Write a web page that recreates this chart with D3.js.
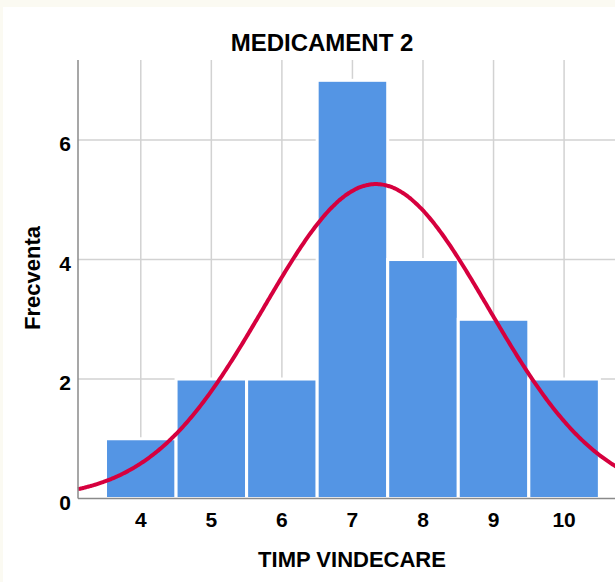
<!DOCTYPE html>
<html>
<head>
<meta charset="utf-8">
<script src="https://cdn.jsdelivr.net/npm/d3@7"></script>
<style>
  body { margin: 0; background: #fff; }
  svg { display: block; }
  text { font-family: "Liberation Sans", Arial, sans-serif; font-weight: bold; fill: #000; }
</style>
</head>
<body>
<div id="chart-container"></div>
<script>
// Histogram data: healing time (bins) and frequencies
const timeValues = [4, 5, 6, 7, 8, 9, 10];
const frequencies = [1, 2, 2, 7, 4, 3, 2];
const yTicks = [0, 2, 4, 6];

const W = 615, H = 582;
const margin = { top: 60, left: 78, bottomY: 498.5 };

const svg = d3.select('#chart-container').append('svg')
  .attr('width', W)
  .attr('height', H);

// faint cream edge like the screenshot
svg.append('rect').attr('width', W).attr('height', H).attr('fill', '#fbfaf2');
svg.append('rect').attr('x', 3).attr('y', 7).attr('width', W - 3).attr('height', H - 7).attr('fill', '#fff');

// scales (plot runs off the right edge of the picture)
const x = d3.scaleLinear().domain([3.11, 11.1]).range([margin.left, margin.left + 7.99 * 70.55]);
const y = d3.scaleLinear().domain([0, 7.34]).range([margin.bottomY, margin.top]);

const plotRight = x.range()[1];

// gridlines
svg.append('g')
  .selectAll('line.v')
  .data(timeValues)
  .enter().append('line')
  .attr('x1', d => x(d)).attr('x2', d => x(d))
  .attr('y1', y(0)).attr('y2', margin.top)
  .style('stroke', '#d2d2d2').style('stroke-width', 1.5);

svg.append('g')
  .selectAll('line.h')
  .data(yTicks.slice(1))
  .enter().append('line')
  .attr('x1', margin.left).attr('x2', plotRight)
  .attr('y1', d => y(d)).attr('y2', d => y(d))
  .style('stroke', '#d2d2d2').style('stroke-width', 1.5);

// bars
svg.append('g')
  .selectAll('rect')
  .data(timeValues)
  .enter().append('rect')
  .attr('x', d => x(d - 0.5))
  .attr('y', (d, i) => y(frequencies[i]))
  .attr('width', x(1) - x(0))
  .attr('height', (d, i) => y(0) - y(frequencies[i]))
  .style('fill', '#5495e4')
  .style('stroke', '#fff')
  .style('stroke-width', 3);

// normal curve fitted to the data
const n = d3.sum(frequencies);
const mean = d3.sum(timeValues, (d, i) => d * frequencies[i]) / n;
const variance = d3.sum(timeValues, (d, i) => frequencies[i] * (d - mean) ** 2) / (n - 1);
const sd = Math.sqrt(variance);
const curveX = d3.range(3.11, 11.1, 0.02);
const density = v => n * Math.exp(-0.5 * ((v - mean) / sd) ** 2) / (sd * Math.sqrt(2 * Math.PI));

const line = d3.line()
  .x(d => x(d))
  .y(d => y(density(d)))
  .curve(d3.curveBasis);

svg.append('path')
  .datum(curveX)
  .attr('d', line)
  .style('fill', 'none')
  .style('stroke', '#d6003e')
  .style('stroke-width', 4);

// axes lines
svg.append('line')
  .attr('x1', margin.left).attr('x2', margin.left)
  .attr('y1', margin.top).attr('y2', y(0))
  .style('stroke', '#8a8a8a').style('stroke-width', 1.5);
svg.append('line')
  .attr('x1', margin.left).attr('x2', plotRight)
  .attr('y1', y(0)).attr('y2', y(0))
  .style('stroke', '#8a8a8a').style('stroke-width', 1.5);

// tick labels
svg.append('g')
  .selectAll('text')
  .data(yTicks)
  .enter().append('text')
  .attr('x', 71)
  .attr('y', d => y(d) + 11)
  .style('text-anchor', 'end')
  .style('font-size', '21px')
  .text(d => d);

svg.append('g')
  .selectAll('text')
  .data(timeValues)
  .enter().append('text')
  .attr('x', d => x(d))
  .attr('y', 527)
  .style('text-anchor', 'middle')
  .style('font-size', '21px')
  .text(d => d);

// titles
svg.append('text')
  .attr('x', 322)
  .attr('y', 51)
  .style('text-anchor', 'middle')
  .style('font-size', '24px')
  .text('MEDICAMENT 2');

svg.append('text')
  .attr('x', 352)
  .attr('y', 567)
  .style('text-anchor', 'middle')
  .style('font-size', '22px')
  .text('TIMP VINDECARE');

svg.append('text')
  .attr('transform', 'translate(40,278) rotate(-90)')
  .style('text-anchor', 'middle')
  .style('font-size', '22px')
  .text('Frecventa');
</script>
</body>
</html>
